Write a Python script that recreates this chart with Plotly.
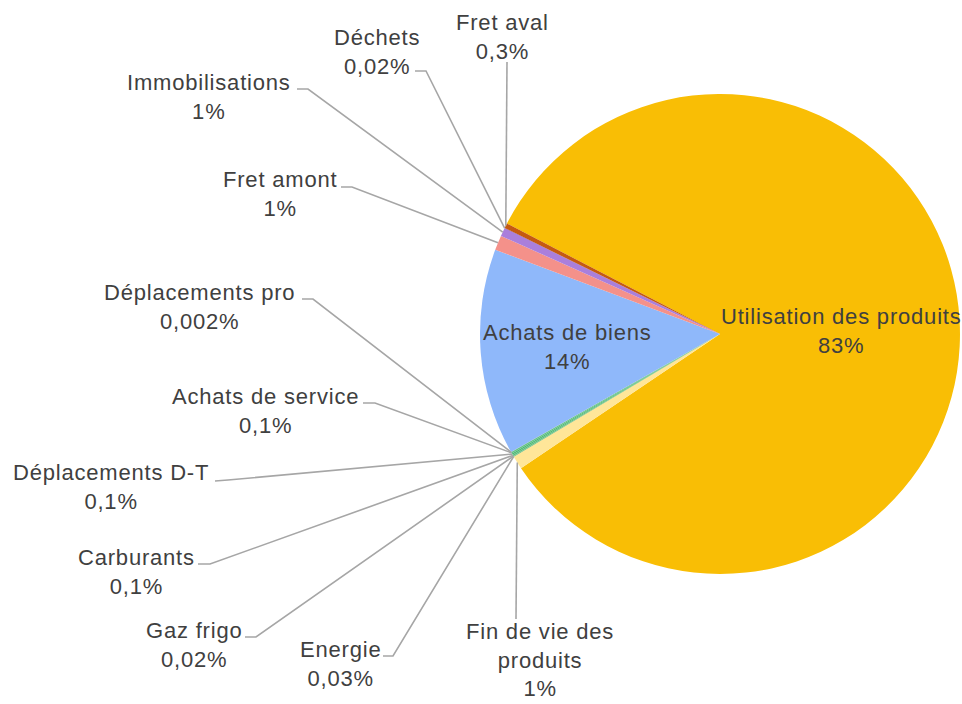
import math
import plotly.graph_objects as go

# ---- data ----
labels = ["Utilisation des produits", "Fin de vie des produits", "Energie", "Gaz frigo",
          "Carburants", "Déplacements D-T", "Achats de service", "Déplacements pro",
          "Achats de biens", "Fret amont", "Immobilisations", "Déchets", "Fret aval"]
values = [83.0, 0.9, 0.03, 0.02, 0.1, 0.1, 0.1, 0.002, 13.9, 1.0, 0.56, 0.02, 0.33]
pct_text = ["83%", "1%", "0,03%", "0,02%", "0,1%", "0,1%", "0,1%", "0,002%",
            "14%", "1%", "1%", "0,02%", "0,3%"]
display_names = ["Utilisation des produits", "Fin de vie des<br>produits", "Energie", "Gaz frigo",
                 "Carburants", "Déplacements D-T", "Achats de service", "Déplacements pro",
                 "Achats de biens", "Fret amont", "Immobilisations", "Déchets", "Fret aval"]
colors = ["#F9BE05", "#FFE699", "#4CAF6E", "#5CC07C", "#5DBE7E", "#4FB874", "#63C488", "#70AD47",
          "#8FB8FA", "#F4918A", "#AA7FDC", "#7030A0", "#C55A11"]

# ---- layout (pixel positions) ----
W, H = 962, 704
CX, CY, R = 720, 334, 240
ROT = 297.4
FONT = "Liberation Sans, Arial, sans-serif"
TXT = "#404040"
LINE = "#A6A6A6"
FS = 22

label_center = {
    "Utilisation des produits": (841, 331),
    "Achats de biens": (567, 347),
    "Fret aval": (502, 37),
    "Déchets": (377, 52),
    "Immobilisations": (209, 97),
    "Fret amont": (280, 194),
    "Déplacements pro": (199, 307),
    "Achats de service": (265, 411),
    "Déplacements D-T": (111, 487),
    "Carburants": (136, 572),
    "Gaz frigo": (194, 645),
    "Energie": (340, 664),
    "Fin de vie des produits": (540, 660),
}
leader_start = {
    "Fret aval": [(507, 62)],
    "Déchets": [(415, 71), (426, 71)],
    "Immobilisations": [(297, 89), (308, 89)],
    "Fret amont": [(341, 187), (352, 187)],
    "Déplacements pro": [(302, 299), (313, 299)],
    "Achats de service": [(363, 403), (375, 403)],
    "Déplacements D-T": [(215, 481), (228, 480)],
    "Carburants": [(198, 564), (210, 564)],
    "Gaz frigo": [(245, 637), (256, 637)],
    "Energie": [(383, 656), (393, 656)],
    "Fin de vie des produits": [(516, 619)],
}


def px(x):
    return x / W


def py(y):
    return 1 - y / H


def spaced(s):
    return "<br>".join(f'<span style="letter-spacing:0.8px">{part}</span>' for part in s.split("<br>"))


fig = go.Figure(go.Pie(
    labels=labels, values=values, sort=False, direction="clockwise", rotation=ROT,
    marker=dict(colors=colors, line=dict(width=0)),
    textinfo="none", hoverinfo="label+percent", showlegend=False,
    domain=dict(x=[px(CX - R), px(CX + R)], y=[py(CY + R), py(CY - R)]),
))

total = sum(values)
cum = 0.0
annotations = []
shapes = []
for lab, v, pct, name in zip(labels, values, pct_text, display_names):
    mid = math.radians(ROT + (cum + v / 2) / total * 360)
    cum += v
    ex, ey = CX + R * math.sin(mid), CY - R * math.cos(mid)
    cx, cy = label_center[lab]
    annotations.append(dict(
        x=px(cx), y=py(cy), xref="paper", yref="paper", showarrow=False,
        xanchor="center", yanchor="middle", align="center",
        text=spaced(f"{name}<br>{pct}"), font=dict(family=FONT, size=FS, color=TXT),
    ))
    if lab in leader_start:
        pts = leader_start[lab] + [(ex, ey)]
        path = "M " + " L ".join(f"{px(x):.5f},{py(y):.5f}" for x, y in pts)
        shapes.append(dict(type="path", xref="paper", yref="paper", path=path,
                           line=dict(color=LINE, width=1.6), layer="above"))

fig.update_layout(
    width=W, height=H, margin=dict(l=0, r=0, t=0, b=0),
    paper_bgcolor="white", plot_bgcolor="white",
    annotations=annotations, shapes=shapes,
)

fig.write_html("out.html", config={"displayModeBar": False},
               post_script="document.body.style.margin='0';document.body.style.overflow='hidden';")
